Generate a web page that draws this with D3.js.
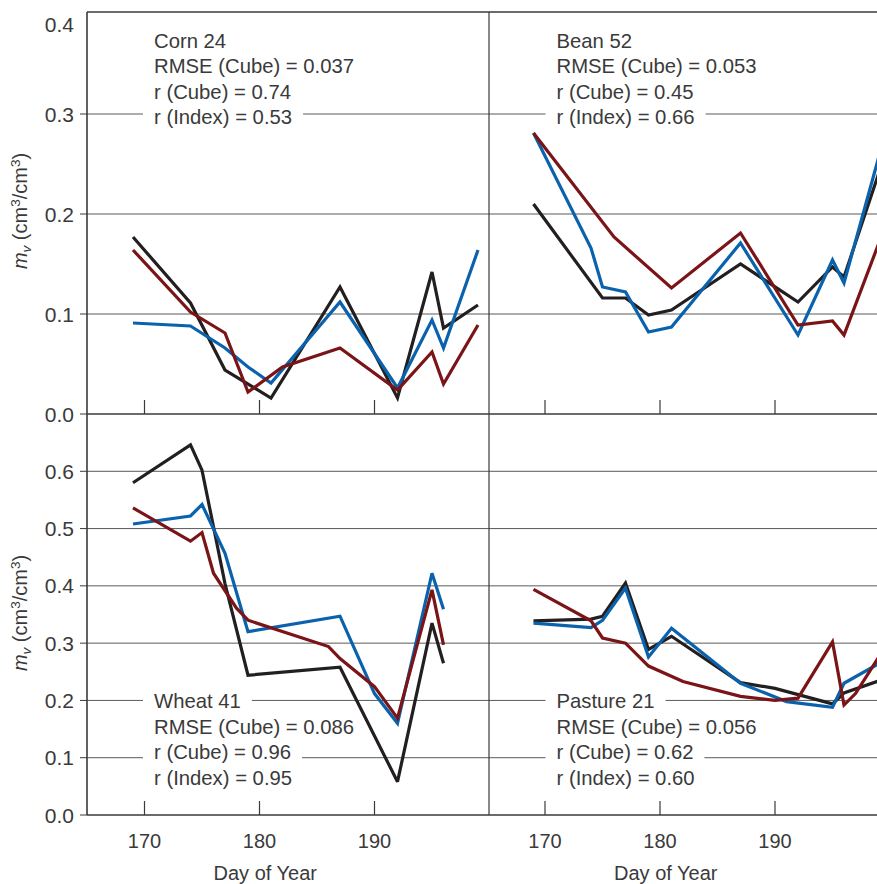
<!DOCTYPE html>
<html>
<head>
<meta charset="utf-8">
<script src="https://cdn.jsdelivr.net/npm/d3@7"></script>
<style>
  html, body { margin: 0; padding: 0; background: #fff; }
  svg { display: block; font-family: "Liberation Sans", Arial, sans-serif; }
</style>
</head>
<body>
<svg id="chart" width="877" height="884"></svg>
<script>
// ---------------- DATA ----------------
const dayTicks = [170, 180, 190];
const topTicks = [0.0, 0.1, 0.2, 0.3, 0.4];
const bottomTicks = [0.0, 0.1, 0.2, 0.3, 0.4, 0.5, 0.6];
const seriesNames = ["In situ", "Cube", "Index"];

// Corn 24
const cornDays    = [169, 174, 177, 179, 181, 182, 187, 192, 195, 196, 199];
const cornInSitu  = [0.177, 0.111, 0.044, null, 0.016, null, 0.127, 0.016, 0.142, 0.086, 0.109];
const cornCube    = [0.091, 0.088, 0.066, 0.047, 0.031, null, 0.112, 0.026, 0.094, 0.066, 0.164];
const cornIndex   = [0.164, 0.102, 0.081, 0.022, null, 0.047, 0.066, 0.024, 0.062, 0.030, 0.089];
const cornStats   = ["Corn 24", "RMSE (Cube) = 0.037", "r (Cube) = 0.74", "r (Index) = 0.53"];

// Bean 52
const beanDays    = [169, 174, 175, 176, 177, 179, 181, 187, 192, 195, 196, 199];
const beanInSitu  = [0.210, null, 0.116, null, 0.116, 0.099, 0.104, 0.150, 0.112, 0.147, 0.137, 0.240];
const beanCube    = [0.281, 0.166, 0.127, null, 0.122, 0.082, 0.087, 0.171, 0.079, 0.154, 0.131, 0.256];
const beanIndex   = [0.281, null, null, 0.177, null, null, 0.126, 0.181, 0.089, 0.093, 0.079, 0.170];
const beanStats   = ["Bean 52", "RMSE (Cube) = 0.053", "r (Cube) = 0.45", "r (Index) = 0.66"];

// Wheat 41
const wheatDays   = [169, 174, 175, 176, 177, 178, 179, 186, 187, 190, 192, 195, 196];
const wheatInSitu = [0.580, 0.646, 0.602, null, 0.404, null, 0.244, null, 0.258, null, 0.058, 0.335, 0.265];
const wheatCube   = [0.508, 0.522, 0.542, null, 0.457, null, 0.320, null, 0.347, 0.212, 0.160, 0.422, 0.359];
const wheatIndex  = [0.536, 0.478, 0.493, 0.422, null, 0.361, 0.340, 0.294, 0.273, 0.224, 0.169, 0.393, 0.297];
const wheatStats  = ["Wheat 41", "RMSE (Cube) = 0.086", "r (Cube) = 0.96", "r (Index) = 0.95"];

// Pasture 21
const pastureDays   = [169, 174, 175, 177, 179, 181, 182, 187, 190, 191, 192, 195, 196, 197, 199];
const pastureInSitu = [0.339, 0.342, 0.347, 0.405, 0.289, 0.312, null, 0.231, 0.221, null, null, 0.194, 0.213, null, 0.234];
const pastureCube   = [0.335, 0.327, 0.340, 0.396, 0.276, 0.326, null, 0.230, null, 0.198, null, 0.188, 0.230, null, 0.264];
const pastureIndex  = [0.394, 0.339, 0.309, 0.300, 0.260, null, 0.233, 0.207, 0.200, null, 0.204, 0.302, 0.192, 0.212, 0.275];
const pastureStats  = ["Pasture 21", "RMSE (Cube) = 0.056", "r (Cube) = 0.62", "r (Index) = 0.60"];

// ---------------- STYLE ----------------
const colors = ["#231f20", "#0a62ad", "#7a1417"];
const textColor = "#3a3a3a";
const frameColor = "#3a3a3a";
const gridColor = "#5a5a5a";

const svg = d3.select("#chart");
const W = 877;
const frameLeft = 87, frameMid = 489, frameTop = 12, frameMidY = 414, frameBottom = 815;

const xL = d3.scaleLinear().domain([165, 200]).range([87, 489.5]);
const xR = d3.scaleLinear().domain([165, 200]).range([487.5, 890]);
const yTop = d3.scaleLinear().domain([0, 0.4]).range([414, 14]);
const yBot = d3.scaleLinear().domain([0, 0.7]).range([815, 414]);

svg.append("defs").append("clipPath").attr("id", "clip")
  .append("rect").attr("x", frameLeft).attr("y", frameTop).attr("width", W - frameLeft).attr("height", frameBottom - frameTop);

// gridlines
const grid = svg.append("g");
function gridLines(scale, ticks) {
  ticks.filter(t => t > 0 && t < scale.domain()[1]).forEach(t => {
    grid.append("line").attr("x1", frameLeft).attr("x2", W)
      .attr("y1", scale(t)).attr("y2", scale(t))
      .attr("stroke", gridColor).attr("stroke-width", 1);
  });
}
gridLines(yTop, topTicks);
gridLines(yBot, bottomTicks);

// y ticks (outward) and labels
const yAx = svg.append("g");
function yLabels(scale, ticks) {
  ticks.forEach(t => {
    const y = scale(t);
    const atTop = t >= scale.domain()[1];
    if (!atTop) {
      yAx.append("line").attr("x1", frameLeft - 7).attr("x2", frameLeft)
        .attr("y1", y).attr("y2", y).attr("stroke", frameColor).attr("stroke-width", 1);
    }
    yAx.append("text").attr("x", 74).attr("y", y + (atTop ? 10 : 0))
      .attr("dy", "0.36em").attr("text-anchor", "end")
      .attr("font-size", 21).attr("fill", textColor).text(t.toFixed(1));
  });
}
yLabels(yTop, topTicks);
yLabels(yBot, bottomTicks);

// panels
const panels = [
  { x: xL, y: yTop, days: cornDays, vals: [cornInSitu, cornCube, cornIndex], stats: cornStats, tx: frameLeft + 67, ty: 47.5, tickBase: frameMidY },
  { x: xR, y: yTop, days: beanDays, vals: [beanInSitu, beanCube, beanIndex], stats: beanStats, tx: frameMid + 67.5, ty: 47.5, tickBase: frameMidY },
  { x: xL, y: yBot, days: wheatDays, vals: [wheatInSitu, wheatCube, wheatIndex], stats: wheatStats, tx: frameLeft + 67, ty: 708, tickBase: frameBottom },
  { x: xR, y: yBot, days: pastureDays, vals: [pastureInSitu, pastureCube, pastureIndex], stats: pastureStats, tx: frameMid + 67.5, ty: 708, tickBase: frameBottom }
];

const lineH = 25.6;
panels.forEach(p => {
  dayTicks.forEach(d => {
    svg.append("line").attr("x1", p.x(d)).attr("x2", p.x(d))
      .attr("y1", p.tickBase - 14).attr("y2", p.tickBase)
      .attr("stroke", frameColor).attr("stroke-width", 1.2);
  });
  const g = svg.append("g");
  const texts = p.stats.map((s, i) => g.append("text")
    .attr("x", p.tx).attr("y", p.ty + i * lineH)
    .attr("font-size", 20.3).attr("fill", textColor).text(s));
  texts.forEach((t, i) => {
    const len = t.node().getComputedTextLength();
    g.insert("rect", "text").attr("x", p.tx - 11).attr("y", p.ty + i * lineH - 19)
      .attr("width", len + 22).attr("height", 25).attr("fill", "#fff");
  });
});

// data lines
const dl = svg.append("g").attr("clip-path", "url(#clip)");
panels.forEach(p => {
  p.vals.forEach((v, si) => {
    const pts = p.days.map((d, i) => [d, v[i]]).filter(e => e[1] !== null);
    const line = d3.line().x(e => p.x(e[0])).y(e => p.y(e[1]));
    dl.append("path").datum(pts).attr("d", line)
      .attr("fill", "none").attr("stroke", colors[si]).attr("stroke-width", 3.2)
      .attr("stroke-linejoin", "miter").attr("stroke-miterlimit", 3);
  });
});

// frame
const fr = svg.append("g").attr("stroke", frameColor).attr("stroke-width", 1.6);
fr.append("line").attr("x1", frameLeft).attr("x2", frameLeft).attr("y1", frameTop).attr("y2", frameBottom);
fr.append("line").attr("x1", frameMid).attr("x2", frameMid).attr("y1", frameTop).attr("y2", frameBottom).attr("stroke-width", 1.2);
fr.append("line").attr("x1", frameLeft).attr("x2", W).attr("y1", frameTop).attr("y2", frameTop);
fr.append("line").attr("x1", frameLeft).attr("x2", W).attr("y1", frameMidY).attr("y2", frameMidY);
fr.append("line").attr("x1", frameLeft).attr("x2", W).attr("y1", frameBottom).attr("y2", frameBottom);

// x tick labels and titles
[xL, xR].forEach(x => {
  dayTicks.forEach(d => {
    svg.append("text").attr("x", x(d)).attr("y", 848).attr("text-anchor", "middle")
      .attr("font-size", 20).attr("fill", textColor).text(d);
  });
  svg.append("text").attr("x", x(180.5)).attr("y", 880).attr("text-anchor", "middle")
    .attr("font-size", 20).attr("fill", textColor).text("Day of Year");
});

// y titles
function yTitle(cy) {
  const t = svg.append("text").attr("transform", `translate(27,${cy}) rotate(-90)`)
    .attr("text-anchor", "middle").attr("font-size", 20).attr("fill", textColor);
  t.append("tspan").attr("font-style", "italic").text("m");
  t.append("tspan").attr("font-style", "italic").attr("font-size", 13.5).attr("dy", 4).text("v");
  t.append("tspan").attr("dy", -4).text(" (cm");
  t.append("tspan").attr("font-size", 13.5).attr("dy", -7.5).text("3");
  t.append("tspan").attr("dy", 7.5).text("/cm");
  t.append("tspan").attr("font-size", 13.5).attr("dy", -7.5).text("3");
  t.append("tspan").attr("dy", 7.5).text(")");
}
yTitle(211);
yTitle(613);
</script>
</body>
</html>
